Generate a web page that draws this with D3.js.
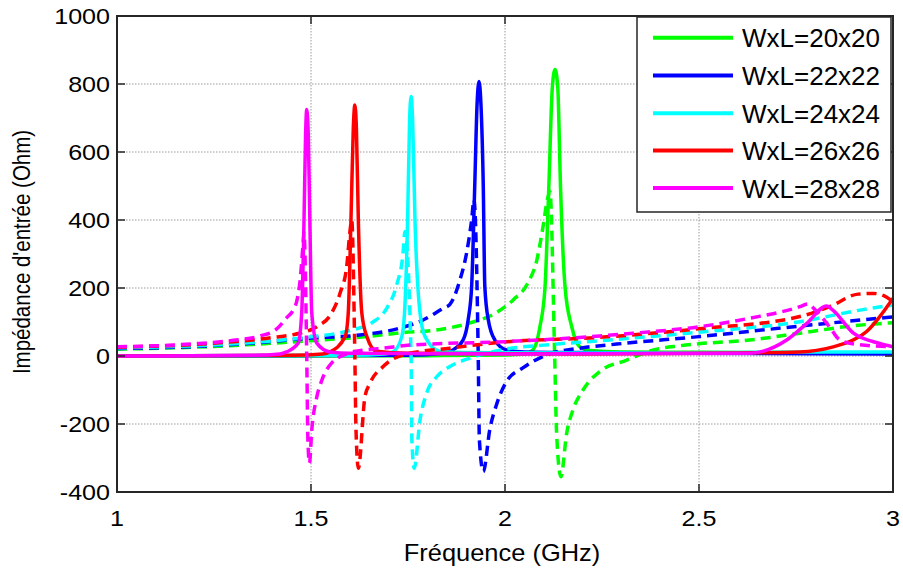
<!DOCTYPE html>
<html>
<head>
<meta charset="utf-8">
<script src="https://cdn.jsdelivr.net/npm/d3@7"></script>
<style>
  html, body { margin: 0; padding: 0; background: #fff; }
  svg { display: block; }
  text { font-family: "Liberation Sans", Arial, sans-serif; fill: #000; }
</style>
</head>
<body>
<svg id="chart" width="903" height="570"></svg>
<script>
// ---- Data (frequency GHz, impedance Ohm) ----
const seriesNames = ["WxL=20x20", "WxL=22x22", "WxL=24x24", "WxL=26x26", "WxL=28x28"];
const seriesColors = ["#00ff00", "#0000ff", "#00ffff", "#ff0000", "#ff00ff"];
const xTicks = [1, 1.5, 2, 2.5, 3];
const yTicks = [-400, -200, 0, 200, 400, 600, 800, 1000];

// Real part (solid)
const re20 = [[1,0],[1.8,1],[2.0,3],[2.04,5],[2.065,12],[2.077,27],[2.09,86],[2.103,200],[2.113,500],[2.122,790],[2.129,843],[2.136,790],[2.143,500],[2.155,200],[2.172,86],[2.193,27],[2.22,16],[2.3,12],[2.5,11],[2.7,10],[3,8]];
const re22 = [[1,0],[1.75,2],[1.84,8],[1.866,18],[1.892,47],[1.905,106],[1.914,204],[1.922,500],[1.928,740],[1.933,807],[1.938,740],[1.944,500],[1.948,204],[1.957,106],[1.974,47],[2.004,18],[2.05,12],[2.2,10],[2.5,8],[3,6]];
const re24 = [[1,0],[1.6,2],[1.69,6],[1.711,12],[1.734,57],[1.741,126],[1.749,400],[1.754,690],[1.758,763],[1.762,690],[1.768,400],[1.781,126],[1.794,57],[1.832,14],[1.9,10],[2.2,9],[2.6,10],[2.8,12],[3,12]];
const re26 = [[1,0],[1.45,2],[1.53,6],[1.549,12],[1.588,57],[1.596,126],[1.603,400],[1.609,670],[1.613,738],[1.617,670],[1.622,400],[1.631,126],[1.644,57],[1.669,14],[1.75,8],[2.2,6],[2.6,9],[2.76,12],[2.846,27],[2.897,47],[2.932,72],[2.966,116],[3,170]];
const re28 = [[1,0],[1.35,2],[1.42,6],[1.437,12],[1.467,38],[1.476,126],[1.482,400],[1.486,650],[1.489,725],[1.493,650],[1.497,400],[1.502,126],[1.515,38],[1.549,12],[1.6,8],[2.0,6],[2.4,7],[2.63,8],[2.726,47],[2.778,96],[2.829,147],[2.845,135],[2.898,67],[2.966,37],[3,27]];

// Imaginary part (dashed)
const im20 = [[1,20],[1.2,26],[1.35,34],[1.5,45],[1.65,58],[1.73,68],[1.833,78],[1.918,100],[1.969,122],[2.021,165],[2.059,215],[2.082,282],[2.098,380],[2.109,459],[2.116,483],[2.128,0],[2.133,-227],[2.144,-355],[2.159,-227],[2.175,-159],[2.201,-100],[2.245,-45],[2.314,-12],[2.35,5],[2.374,15],[2.45,30],[2.5,36],[2.63,47],[2.76,67],[2.89,88],[3,98]];
const im22 = [[1,22],[1.2,28],[1.35,38],[1.49,52],[1.626,62],[1.729,82],[1.789,106],[1.84,140],[1.858,152],[1.884,224],[1.901,303],[1.914,400],[1.920,459],[1.931,0],[1.934,-247],[1.944,-340],[1.961,-215],[1.979,-140],[2.004,-75],[2.046,-35],[2.107,3],[2.193,23],[2.288,35],[2.5,57],[2.76,88],[3,115]];
const im24 = [[1,24],[1.2,30],[1.35,40],[1.49,55],[1.6,75],[1.66,100],[1.695,140],[1.721,210],[1.737,300],[1.742,366],[1.758,0],[1.760,-247],[1.766,-330],[1.781,-188],[1.798,-109],[1.824,-61],[1.858,-31],[1.91,-6],[2.0,20],[2.1,32],[2.245,45],[2.5,70],[2.76,101],[2.915,135],[3,150]];
const im26 = [[1,26],[1.1,29],[1.2,34],[1.3,42],[1.4,54],[1.47,67],[1.515,86],[1.553,126],[1.575,185],[1.592,263],[1.600,362],[1.605,400],[1.613,0],[1.616,-218],[1.622,-330],[1.639,-120],[1.652,-80],[1.686,-31],[1.737,3],[1.858,23],[1.987,40],[2.245,55],[2.5,80],[2.76,116],[2.84,147],[2.91,182],[2.95,184],[2.975,178],[3,160]];
const im28 = [[1,27],[1.1,30],[1.2,36],[1.3,46],[1.369,59],[1.41,78],[1.437,112],[1.454,135],[1.463,160],[1.472,223],[1.479,321],[1.482,362],[1.489,0],[1.492,-247],[1.496,-315],[1.502,-218],[1.515,-120],[1.528,-71],[1.553,-21],[1.6,9],[1.7,25],[1.755,32],[2.0,42],[2.245,59],[2.33,67],[2.5,86],[2.63,111],[2.76,145],[2.78,153],[2.80,135],[2.84,80],[2.86,50],[2.9,35],[3,27]];

const realParts = [re20, re22, re24, re26, re28];
const imagParts = [im20, im22, im24, im26, im28];

// ---- Layout ----
const W = 903, H = 570;
const L = 117, R = 893, T = 16, B = 492;
const svg = d3.select("#chart");
svg.append("rect").attr("width", W).attr("height", H).attr("fill", "#fff");

const x = d3.scaleLinear().domain([1, 3]).range([L, R]);
const y = d3.scaleLinear().domain([-400, 1000]).range([B, T]);

// grid
const grid = svg.append("g").attr("stroke", "#9a9a9a").attr("stroke-width", 1).attr("stroke-dasharray", "1.5,1.5");
xTicks.filter(t => t > 1 && t < 3).forEach(t => {
  grid.append("line").attr("x1", x(t)).attr("x2", x(t)).attr("y1", T).attr("y2", B);
});
yTicks.filter(t => t > -400 && t < 1000).forEach(t => {
  grid.append("line").attr("x1", L).attr("x2", R).attr("y1", y(t)).attr("y2", y(t));
});

// clip
svg.append("clipPath").attr("id", "clip").append("rect")
  .attr("x", L).attr("y", T).attr("width", R - L).attr("height", B - T);

const line = d3.line().x(d => x(d[0])).y(d => y(d[1])).curve(d3.curveMonotoneX);
const plot = svg.append("g").attr("clip-path", "url(#clip)");
for (let i = 0; i < 5; i++) {
  plot.append("path").attr("d", line(realParts[i])).attr("fill", "none")
    .attr("stroke", seriesColors[i]).attr("stroke-width", 3.5).attr("stroke-linejoin", "round");
  plot.append("path").attr("d", line(imagParts[i])).attr("fill", "none")
    .attr("stroke", seriesColors[i]).attr("stroke-width", 3.5).attr("stroke-dasharray", "10,6");
}

// axes box and ticks
const axc = "#262626";
const tickLen = 8;
const axes = svg.append("g").attr("stroke", axc).attr("stroke-width", 1.5);
xTicks.forEach(t => {
  axes.append("line").attr("x1", x(t)).attr("x2", x(t)).attr("y1", B).attr("y2", B - tickLen);
  axes.append("line").attr("x1", x(t)).attr("x2", x(t)).attr("y1", T).attr("y2", T + tickLen);
});
yTicks.forEach(t => {
  axes.append("line").attr("x1", L).attr("x2", L + tickLen).attr("y1", y(t)).attr("y2", y(t));
  axes.append("line").attr("x1", R).attr("x2", R - tickLen).attr("y1", y(t)).attr("y2", y(t));
});
svg.append("rect").attr("x", L).attr("y", T).attr("width", R - L).attr("height", B - T)
  .attr("fill", "none").attr("stroke", axc).attr("stroke-width", 2);

// tick labels
const sx = 1.14;
xTicks.forEach(t => {
  svg.append("text").attr("transform", `translate(${x(t)},526) scale(${sx},1)`)
    .attr("text-anchor", "middle").attr("font-size", 22).text(d3.format("")(t));
});
yTicks.forEach(t => {
  svg.append("text").attr("transform", `translate(110,${y(t) + 8}) scale(${sx},1)`)
    .attr("text-anchor", "end").attr("font-size", 22).text(t);
});

// axis labels
svg.append("text").attr("transform", `translate(502,561) scale(1.06,1)`)
  .attr("text-anchor", "middle").attr("font-size", 24).text("Fréquence (GHz)");
svg.append("text").attr("transform", `translate(30,252) scale(1.14,1) rotate(-90)`)
  .attr("text-anchor", "middle").attr("font-size", 20.5).text("Impédance d'entrée (Ohm)");

// legend
const lg = svg.append("g");
lg.append("rect").attr("x", 637).attr("y", 17).attr("width", 254).attr("height", 195)
  .attr("fill", "#fff").attr("stroke", axc).attr("stroke-width", 1.5);
const rowY = [37.7, 75.5, 113.3, 150.5, 188];
seriesNames.forEach((n, i) => {
  lg.append("line").attr("x1", 653).attr("x2", 733).attr("y1", rowY[i]).attr("y2", rowY[i])
    .attr("stroke", seriesColors[i]).attr("stroke-width", 4);
  lg.append("text").attr("x", 742).attr("y", rowY[i] + 9.5).attr("font-size", 26).text(n);
});
</script>
</body>
</html>
